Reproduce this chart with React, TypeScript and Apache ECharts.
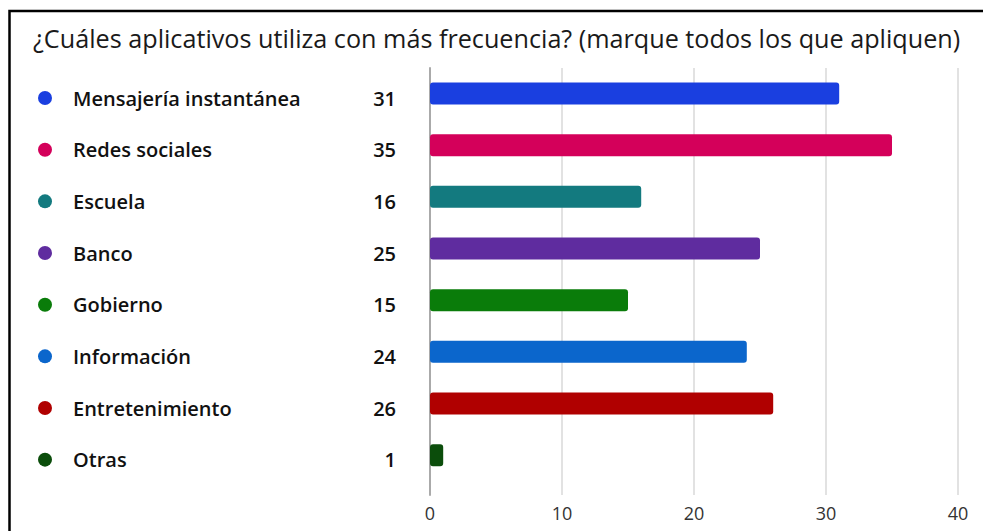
import React, { useEffect, useRef } from "react";
import * as echarts from "echarts";

const titleText = "¿Cuáles aplicativos utiliza con más frecuencia? (marque todos los que apliquen)";
const categories = [
  "Mensajería instantánea",
  "Redes sociales",
  "Escuela",
  "Banco",
  "Gobierno",
  "Información",
  "Entretenimiento",
  "Otras",
];
const values = [31, 35, 16, 25, 15, 24, 26, 1];
const colors = ["#1a3fe0", "#d4005a", "#137a7f", "#5f2c9f", "#0a7c0a", "#0b66cc", "#b00000", "#0b4d0b"];
const xTicks = { min: 0, max: 40, interval: 10 };

const FONT = "'Open Sans', 'Noto Sans', sans-serif";

export default function App() {
  const ref = useRef<HTMLDivElement>(null);
  useEffect(() => {
    if (!ref.current) return;
    const chart = echarts.init(ref.current, null, { renderer: "svg" });
    const rich: any = {
      n: { fontFamily: FONT, fontSize: 20, fontWeight: 600, color: "#111", padding: [0, 0, 0, 21] },
    };
    colors.forEach((c, i) => {
      rich["d" + i] = { width: 14, height: 14, borderRadius: 7, backgroundColor: c };
    });
    chart.setOption({
      animation: false,
      backgroundColor: "#fff",
      title: {
        text: titleText,
        left: 28,
        top: 20,
        textStyle: { fontFamily: FONT, fontSize: 25.2, fontWeight: "normal", color: "#1a1a1a" },
      },
      graphic: [
        {
          type: "rect",
          shape: { x: 9.5, y: 11, width: 1000, height: 600 },
          style: { fill: "none", stroke: "#000", lineWidth: 2.5 },
          silent: true,
        },
      ],
      grid: [
        { left: 430, right: 25, top: 67.7, height: 413.3 },
        { left: 430, right: 25, top: 68, bottom: 36 },
        { left: 430, right: 25, top: 72.2, height: 413.3 },
      ],
      xAxis: [
        { gridIndex: 0, type: "value", ...xTicks, show: false },
        {
          gridIndex: 1,
          type: "value",
          ...xTicks,
          axisLine: { show: false },
          axisTick: { show: false },
          splitLine: { show: true, lineStyle: { color: "#d8d8d8", width: 1.5 } },
          axisLabel: { fontFamily: FONT, fontSize: 18, color: "#333", margin: 9 },
        },
        { gridIndex: 2, type: "value", ...xTicks, show: false },
      ],
      yAxis: [
        { gridIndex: 0, type: "category", data: categories, inverse: true, show: false },
        {
          gridIndex: 1,
          type: "value",
          min: 0,
          max: 1,
          axisLine: { show: true, lineStyle: { color: "#aaaaaa", width: 2 } },
          axisTick: { show: false },
          axisLabel: { show: false },
          splitLine: { show: false },
        },
        {
          gridIndex: 2,
          type: "category",
          data: categories,
          inverse: true,
          axisLine: { show: false },
          axisTick: { show: false },
          axisLabel: {
            align: "left",
            margin: 392,
            formatter: (v: string, i: number) => `{d${i}|}{n|${v}}`,
            rich,
          },
        },
      ],
      series: [
        {
          type: "bar",
          xAxisIndex: 0,
          yAxisIndex: 0,
          barWidth: 22,
          data: values.map((v, i) => ({ value: v, itemStyle: { color: colors[i], borderRadius: 3 } })),
          label: {
            show: true,
            position: "left",
            distance: 34,
            offset: [0, 4.5],
            fontFamily: FONT,
            fontSize: 20,
            fontWeight: 600,
            color: "#111",
          },
        },
      ],
    });
    return () => chart.dispose();
  }, []);
  return <div ref={ref} style={{ position: "absolute", left: 0, top: 0, width: 983, height: 531 }} />;
}
